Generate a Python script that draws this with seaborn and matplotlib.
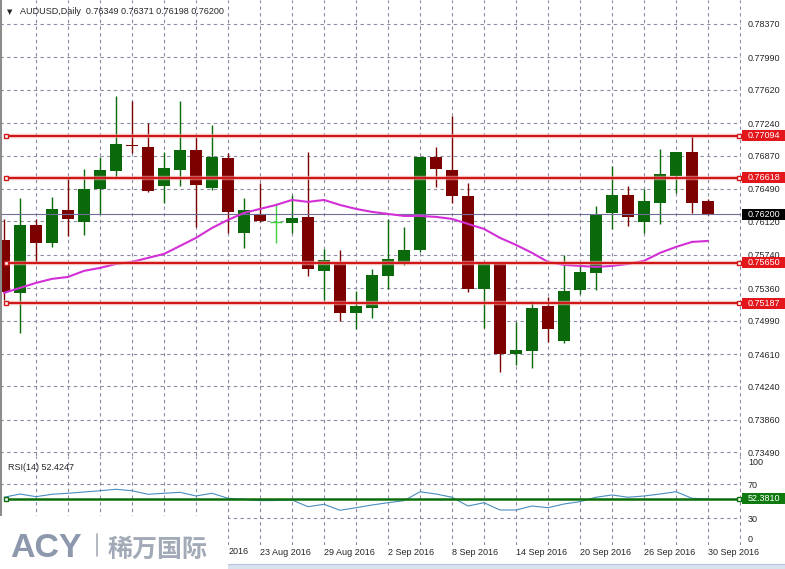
import numpy as np
import pandas as pd
import seaborn as sns
import matplotlib.pyplot as plt
import matplotlib.transforms as mtransforms
from matplotlib.patches import Rectangle
from matplotlib.lines import Line2D

sns.set_style('white')
plt.rcParams['font.family'] = ['Liberation Sans', 'DejaVu Sans']

# daily AUDUSD bars, 1 Aug - 30 Sep 2016
opens = [0.75910, 0.75306, 0.76081, 0.75876, 0.76251, 0.76115, 0.76491, 0.76696, 0.76990, 0.76969,
         0.76525, 0.76707, 0.76935, 0.76502, 0.76844, 0.75989, 0.76195, 0.76119, 0.76103, 0.76172,
         0.75557, 0.75648, 0.75078, 0.75135, 0.75500, 0.75648, 0.75796, 0.76855, 0.76707, 0.76411,
         0.75352, 0.75654, 0.74611, 0.74645, 0.75158, 0.74759, 0.75340, 0.75534, 0.76217, 0.76422,
         0.76115, 0.76331, 0.76639, 0.76912, 0.76349]
highs = [0.76149, 0.76388, 0.76149, 0.76400, 0.76627, 0.76718, 0.76855, 0.77550, 0.77493, 0.77242,
         0.76912, 0.77493, 0.77083, 0.77220, 0.76901, 0.76388, 0.76559, 0.76331, 0.76422, 0.76912,
         0.75807, 0.75796, 0.75329, 0.75579, 0.76149, 0.76058, 0.76855, 0.76969, 0.77322, 0.76559,
         0.75654, 0.75659, 0.74976, 0.75215, 0.75261, 0.75739, 0.75648, 0.76297, 0.76753, 0.76525,
         0.76491, 0.76946, 0.76912, 0.77094, 0.76371]
lows = [0.75226, 0.74850, 0.75659, 0.75830, 0.75955, 0.75967, 0.76206, 0.76627, 0.76901, 0.76456,
        0.76331, 0.76525, 0.76058, 0.76479, 0.75989, 0.75819, 0.76115, 0.75876, 0.75989, 0.75500,
        0.75226, 0.74987, 0.74896, 0.75021, 0.75352, 0.75625, 0.75773, 0.76513, 0.76331, 0.75318,
        0.74907, 0.74406, 0.74486, 0.74452, 0.74748, 0.74737, 0.75295, 0.75340, 0.76035, 0.76069,
        0.75989, 0.76092, 0.76445, 0.76217, 0.76198]
closes = [0.75318, 0.76081, 0.75876, 0.76263, 0.76149, 0.76491, 0.76707, 0.77003, 0.76978, 0.76468,
          0.76730, 0.76935, 0.76536, 0.76855, 0.76229, 0.76251, 0.76126, 0.76119, 0.76160, 0.75579,
          0.75682, 0.75078, 0.75158, 0.75511, 0.75693, 0.75796, 0.76855, 0.76718, 0.76411, 0.75352,
          0.75654, 0.74611, 0.74657, 0.75135, 0.74896, 0.75329, 0.75545, 0.76206, 0.76422, 0.76172,
          0.76354, 0.76661, 0.76912, 0.76331, 0.76200]
ma = [0.75306, 0.75363, 0.75420, 0.75466, 0.75488, 0.75557, 0.75591, 0.75636, 0.75659, 0.75705,
      0.75750, 0.75841, 0.75933, 0.76046, 0.76138, 0.76217, 0.76263, 0.76308, 0.76365, 0.76343,
      0.76365, 0.76308, 0.76263, 0.76229, 0.76206, 0.76183, 0.76183, 0.76172, 0.76149, 0.76092,
      0.76035, 0.75933, 0.75853, 0.75762, 0.75659, 0.75625, 0.75614, 0.75602, 0.75614, 0.75636,
      0.75671, 0.75762, 0.75830, 0.75887, 0.75898]
rsi = [54.4, 58.2, 55.1, 57.9, 59.1, 60.6, 62.1, 63.8, 62.1, 57.9,
       59.1, 60.2, 55.9, 59.1, 53.2, 52.0, 50.4, 50.6, 51.2, 43.3,
       46.1, 39.1, 42.1, 45.3, 48.0, 50.4, 60.9, 58.2, 54.4, 44.1,
       48.0, 39.4, 39.4, 44.1, 42.1, 46.5, 49.2, 54.4, 57.1, 54.4,
       55.9, 58.2, 60.9, 53.2, 52.4]

levels = [0.77094, 0.76618, 0.75650, 0.75187]   # horizontal lines
last_price = 0.76200
rsi_level = 52.3810
price_ticks = [0.78370, 0.77990, 0.77620, 0.77240, 0.76870, 0.76490, 0.76120,
               0.75740, 0.75360, 0.74990, 0.74610, 0.74240, 0.73860, 0.73490]
rsi_ticks = [100, 70, 30, 0]

dates = pd.bdate_range('2016-08-01', '2016-09-30')
date_labels = [f"{d.day} {d:%b %Y}" for d in dates]

df = pd.DataFrame({'bar': np.arange(len(opens)), 'open': opens, 'high': highs,
                   'low': lows, 'close': closes, 'ma': ma, 'rsi': rsi})

W, H = 785, 569
fig = plt.figure(figsize=(W / 100, H / 100), dpi=100)
fig.patch.set_facecolor('white')
ax = fig.add_axes([0, 1 - 456 / H, 741 / W, 456 / H])
rax = fig.add_axes([0, 1 - 545 / H, 741 / W, 89 / H])

for a in (ax, rax):
    a.set_facecolor('white')
    for s in a.spines.values():
        s.set_visible(False)
    a.set_xlim(-0.25, 46.0625)

ax.set_ylim(0.73448, 0.78643)
rax.set_ylim(-1.76, 102.94)

# dashed grid
grid = dict(color='#8a8aa4', lw=0.8, ls=(0, (3, 3)), zorder=0.5)
for g in range(2, 47, 2):
    ax.axvline(g, **grid)
    rax.axvline(g, **grid)
for p in price_ticks:
    ax.axhline(p, **grid)
for p in (30, 70):
    rax.axhline(p, **grid)

# price axis
ax.yaxis.tick_right()
ax.set_yticks(price_ticks)
ax.set_yticklabels([f'{p:.5f}' for p in price_ticks])
ax.tick_params(axis='y', length=0, pad=5, labelsize=6.5)
ax.tick_params(axis='x', bottom=False, labelbottom=False)

rax.yaxis.tick_right()
rax.set_yticks(rsi_ticks)
rax.set_yticklabels([str(t) for t in rsi_ticks])
rax.tick_params(axis='y', length=0, pad=5, labelsize=6.5)
for lab, t in zip(rax.get_yticklabels(), rsi_ticks):
    if t == 100:
        lab.set_va('top')
    elif t == 0:
        lab.set_va('bottom')

# date labels every 4 bars; the early ones sit under the logo block
rax.set_xticks(df['bar'][16::4])
rax.set_xticklabels(date_labels[16::4], ha='left')
rax.tick_params(axis='x', length=0, pad=2.5, labelsize=6.5)
fig.text(229 / W, 1 - 552 / H, '2016', fontsize=6.5, va='center')

# candles
up_c, dn_c, doji_c = '#0a690a', '#7d0000', '#3fcf3f'
for i, o, h, l, c in zip(df['bar'], opens, highs, lows, closes):
    col = up_c if c > o else (dn_c if c < o else doji_c)
    ax.vlines(i, l, h, color=col, lw=1.0, zorder=2)
    if c == o:
        ax.hlines(c, i - 0.35, i + 0.35, color=col, lw=1.0, zorder=3)
    else:
        ax.bar(i, max(abs(c - o), 0.00015), bottom=min(o, c), width=0.7,
               color=col, lw=0, zorder=3)

ax.axhline(last_price, color='#6e6e98', lw=0.8, zorder=4)

sns.lineplot(data=df, x='bar', y='ma', ax=ax, color='#d22fd6', lw=1.5, zorder=5)
sns.lineplot(data=df, x='bar', y='rsi', ax=rax, color='#4a8dbf', lw=0.8, zorder=4)
for a in (ax, rax):
    a.set_xlabel('')
    a.set_ylabel('')

# horizontal line objects
x_ends = [0.125, 45.94]
for lv in levels:
    ax.plot(x_ends, [lv, lv], color='#f2a8a8', lw=3.2, alpha=0.6, zorder=6, solid_capstyle='butt')
    ax.plot(x_ends, [lv, lv], color='#d01818', lw=1.5, zorder=7, solid_capstyle='butt')
    ax.plot(x_ends, [lv, lv], 's', ms=3.5, mfc='white', mec='#d01818', mew=1, zorder=8)
rax.plot(x_ends, [rsi_level] * 2, color='#0b6e0b', lw=1.8, zorder=6, solid_capstyle='butt')
rax.plot(x_ends, [rsi_level] * 2, 's', ms=3.5, mfc='white', mec='#0b6e0b', mew=1, zorder=8)


def tag(axis, y, text, fc, h):
    tr = mtransforms.blended_transform_factory(fig.transFigure, axis.transData)
    axis.add_patch(Rectangle((742 / W, y - h / 2), 43 / W, h, transform=tr,
                             fc=fc, ec='none', clip_on=False, zorder=10))
    axis.text(748 / W, y, text, transform=tr, color='white', fontsize=6.5,
              va='center', ha='left', zorder=11, clip_on=False)


for lv in levels:
    tag(ax, lv, f'{lv:.5f}', '#e3161c', 0.00125)
tag(ax, last_price, f'{last_price:.5f}', '#000000', 0.00125)
tag(rax, rsi_level, f'{rsi_level:.4f}', '#0f7a0f', 12.9)

# texts
fig.text(7 / W, 1 - 12 / H, '\u25bc', family='DejaVu Sans', fontsize=5, va='center')
fig.text(20 / W, 1 - 12 / H, 'AUDUSD,Daily  0.76349 0.76371 0.76198 0.76200',
         fontsize=6.5, va='center')
fig.text(8 / W, 1 - 467 / H, 'RSI(14) 52.4247', fontsize=6.5, va='center')

# left border
fig.add_artist(Line2D([0.6 / W] * 2, [1, 1 - 516 / H], color='#8c8c8c', lw=1.5))

# logo block and status strip
fig.add_artist(Rectangle((0, 0), 228 / W, 53 / H, transform=fig.transFigure,
                         fc='white', ec='none', zorder=20))
fig.add_artist(Rectangle((228 / W, 0), (W - 228) / W, 5 / H, transform=fig.transFigure,
                         fc='#d8e2ef', ec='none', zorder=20))
fig.add_artist(Line2D([228 / W, 1], [5 / H, 5 / H], color='#b4c4da', lw=0.8, zorder=21))
fig.text(10 / W, 12 / H, 'ACY', fontsize=24.5, weight='bold', color='#8d98ad',
         va='baseline', zorder=22)
fig.add_artist(Line2D([97 / W] * 2, [13 / H, 35 / H], color='#a5acb8', lw=1.2, zorder=22))
fig.text(107 / W, 12 / H, '稀万国际', family=['Noto Sans CJK SC'], fontsize=18,
         weight='bold', color='#a3aab7', va='baseline', zorder=22)

fig.savefig('out.png', dpi=100)
